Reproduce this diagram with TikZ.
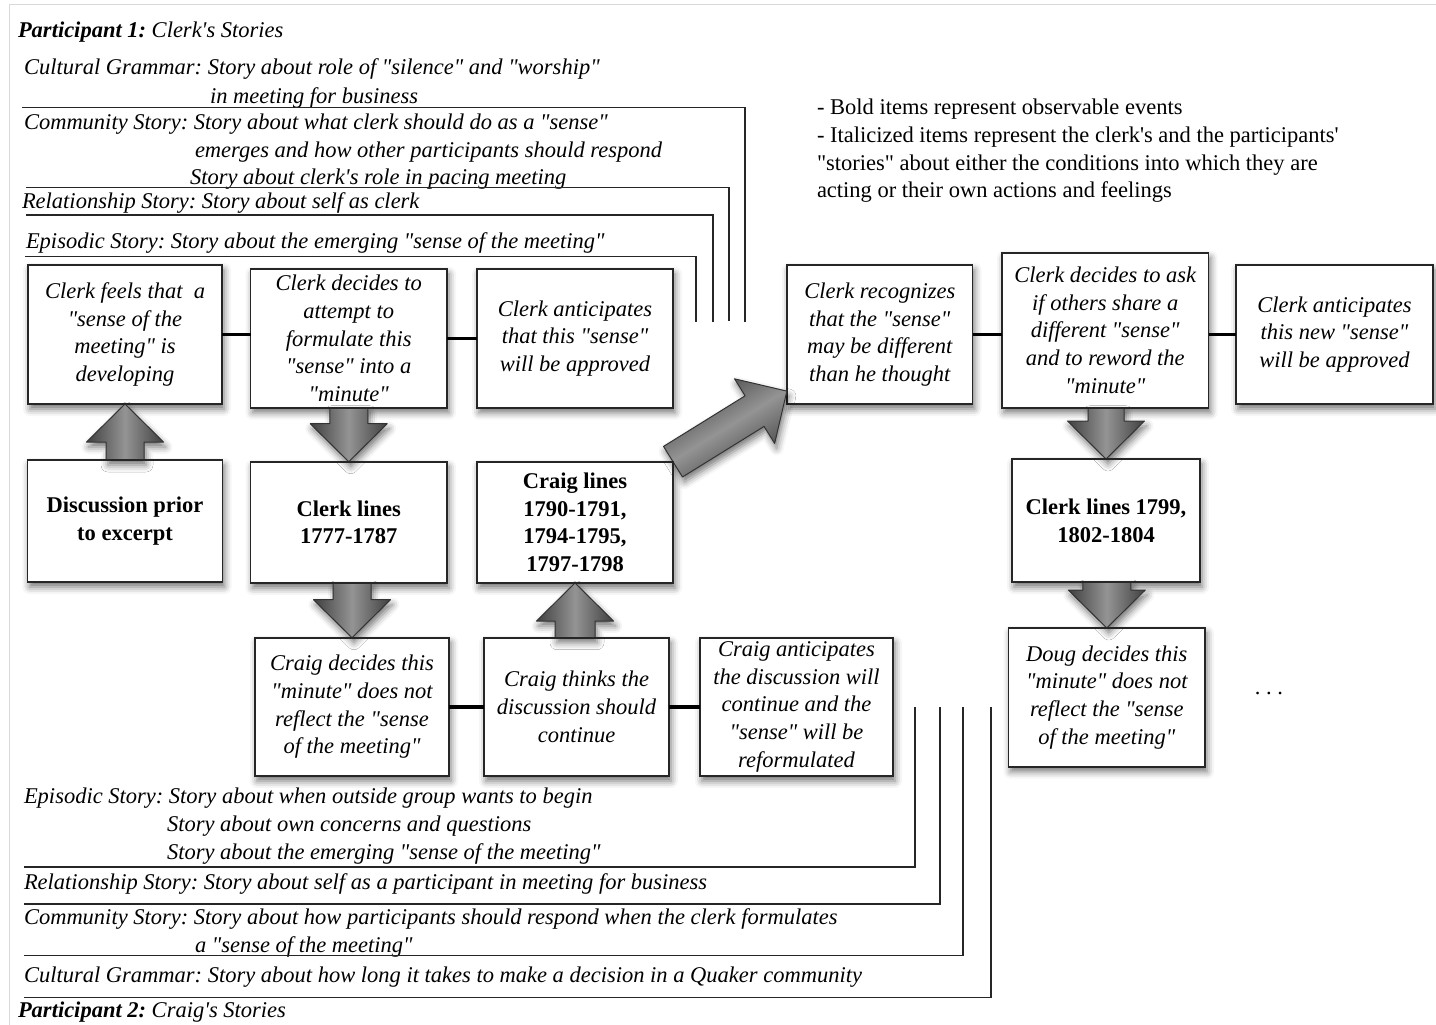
\documentclass[tikz,border=0pt]{standalone}
\usepackage{fontspec}
\setmainfont{Liberation Serif}[Ligatures=TeXOff]
\frenchspacing
\usetikzlibrary{calc,shadows.blur}
\newcommand{\blockarr}[4]{% #1 tail, #2 tip, #3 shaft half width, #4 +1 up / -1 down
  \coordinate (tmpT) at (#2 |- #1);
  \path[barrow] ($(tmpT)+(-#3,0)$) -- ($(#2)+(-#3,#4*38)$) -- ($(#2)+(-38.5,#4*38)$) -- (#2)
     -- ($(#2)+(38.5,#4*38)$) -- ($(#2)+(#3,#4*38)$) -- ($(tmpT)+(#3,0)$) -- cycle;}
\begin{document}
\begin{tikzpicture}[x=1pt,y=-1pt,
  every node/.style={font=\fontsize{22.5}{27.7}\selectfont, inner sep=0pt, outer sep=0pt},
  shad/.style={blur shadow={shadow xshift=2pt, shadow yshift=-5pt, shadow blur radius=7pt, shadow opacity=55}},
  box/.style={draw=black!85, line width=1.6pt, fill=white, align=center, shad},
  ibox/.style={box, font=\fontsize{22.5}{27.7}\selectfont\itshape},
  bbox/.style={box, font=\fontsize{22.5}{27.7}\selectfont\bfseries},
  link/.style={line width=3.6pt, black},
  story/.style={line width=1.4pt, black!85},
  stxt/.style={anchor=base west, font=\fontsize{22.5}{27.7}\selectfont\itshape},
  legend/.style={anchor=base west},
  barrow/.style={draw=black!80, line width=1pt, line join=round, left color=black!75, right color=black!75, middle color=black!42, shad},
]
\useasboundingbox (0,0) rectangle (1436,1025);
\draw[black!15, line width=1pt] (9,1025) -- (9,5) -- (1436,5);

% ---------- participant 1 stories
\node[stxt] (p1) at (18,38) {\textbf{Participant 1:} Clerk's Stories};
\node[stxt] (tc1) at (24,75) {Cultural Grammar: Story about role of "silence" and "worship"};
\node[stxt] (tc2) at (210,103) {in meeting for business};
\node[stxt] (tm1) at (24,129) {Community Story: Story about what clerk should do as a "sense"};
\node[stxt] (tm2) at (195,157) {emerges and how other participants should respond};
\node[stxt] (tm3) at (190,184) {Story about clerk's role in pacing meeting};
\node[stxt] (tr1) at (22,208) {Relationship Story: Story about self as clerk};
\node[stxt] (te1) at (26,248) {Episodic Story: Story about the emerging "sense of the meeting"};

\coordinate (c1a) at (22,107.7); \coordinate (c1b) at (745,107.7); \coordinate (c1c) at (745,322);
\coordinate (c2a) at (26,187.3); \coordinate (c2b) at (729,187.3); \coordinate (c2c) at (729,321);
\coordinate (c3a) at (26,215);   \coordinate (c3b) at (713,215);   \coordinate (c3c) at (713,322);
\coordinate (c4a) at (25,256.7); \coordinate (c4b) at (696,256.7); \coordinate (c4c) at (696,322);
\draw[story] (c1a) -- (c1b) -- (c1c);
\draw[story] (c2a) -- (c2b) -- (c2c);
\draw[story] (c3a) -- (c3b) -- (c3c);
\draw[story] (c4a) -- (c4b) -- (c4c);

% ---------- legend
\node[legend] (l1) at (817,114) {- Bold items represent observable events};
\node[legend] (l2) at (817,142) {- Italicized items represent the clerk's and the participants'};
\node[legend] (l3) at (817,170) {"stories" about either the conditions into which they are};
\node[legend] (l4) at (817,197) {acting or their own actions and feelings};

% ---------- participant 2 stories
\node[stxt] (be1) at (24,803) {Episodic Story: Story about when outside group wants to begin};
\node[stxt] (be2) at (167,831) {Story about own concerns and questions};
\node[stxt] (be3) at (167,859) {Story about the emerging "sense of the meeting"};
\node[stxt] (br1) at (24,889) {Relationship Story: Story about self as a participant in meeting for business};
\node[stxt] (bm1) at (24,924) {Community Story: Story about how participants should respond when the clerk formulates};
\node[stxt] (bm2) at (195,952) {a "sense of the meeting"};
\node[stxt] (bc1) at (24,982) {Cultural Grammar: Story about how long it takes to make a decision in a Quaker community};
\node[stxt] (p2) at (18,1017) {\textbf{Participant 2:} Craig's Stories};

\coordinate (d1a) at (24,867);   \coordinate (d1b) at (915,867);   \coordinate (d1c) at (915,707);
\coordinate (d2a) at (24,904);   \coordinate (d2b) at (940,904);   \coordinate (d2c) at (940,707);
\coordinate (d3a) at (24,955.5); \coordinate (d3b) at (963,955.5); \coordinate (d3c) at (963,707);
\coordinate (d4a) at (24,997.5); \coordinate (d4b) at (991,997.5); \coordinate (d4c) at (991,707);
\draw[story] (d1a) -- (d1b) -- (d1c);
\draw[story] (d2a) -- (d2b) -- (d2c);
\draw[story] (d3a) -- (d3b) -- (d3c);
\draw[story] (d4a) -- (d4b) -- (d4c);

% ---------- boxes
\node[ibox, minimum width=194pt, minimum height=139pt] (A) at (125,334.5)
  {Clerk feels that\ \ a\\"sense of the\\meeting" is\\developing};
\node[ibox, minimum width=196.5pt, minimum height=138.7pt] (B) at (348.75,338.35)
  {Clerk decides to\\attempt to\\formulate this\\"sense" into a\\"minute"};
\node[ibox, minimum width=196pt, minimum height=138.7pt] (C) at (575,338.35)
  {Clerk anticipates\\that this "sense"\\will be approved};
\node[bbox, minimum width=195pt, minimum height=122pt] (D) at (125,521)
  {Discussion prior\\to excerpt};
\node[bbox, minimum width=196.5pt, minimum height=121.3pt] (E) at (348.75,522.35)
  {Clerk lines\\1777-1787};
\node[bbox, minimum width=196pt, minimum height=121.3pt] (F) at (575,522.35)
  {Craig lines\\1790-1791,\\1794-1795,\\1797-1798};
\node[ibox, minimum width=194pt, minimum height=138.3pt] (G) at (352,706.85)
  {Craig decides this\\"minute" does not\\reflect the "sense\\of the meeting"};
\node[ibox, minimum width=185pt, minimum height=138.3pt] (H) at (576.5,706.85)
  {Craig thinks the\\discussion should\\continue};
\node[ibox, minimum width=193pt, minimum height=138.3pt] (I) at (796.5,706.85)
  {Craig anticipates\\the discussion will\\continue and the\\"sense" will be\\reformulated};
\node[ibox, minimum width=185.5pt, minimum height=139pt] (J) at (879.75,334.5)
  {Clerk recognizes\\that the "sense"\\may be different\\than he thought};
\node[ibox, minimum width=206.5pt, minimum height=155pt] (K) at (1105.25,330.2)
  {Clerk decides to ask\\if others share a\\different "sense"\\and to reword the\\"minute"};
\node[ibox, minimum width=197pt, minimum height=139pt] (L) at (1334.5,334.5)
  {Clerk anticipates\\this new "sense"\\will be approved};
\node[bbox, minimum width=188pt, minimum height=123pt] (M) at (1106,520.5)
  {Clerk lines 1799,\\1802-1804};
\node[ibox, minimum width=196.4pt, minimum height=138.7pt] (N) at (1106.8,697.35)
  {Doug decides this\\"minute" does not\\reflect the "sense\\of the meeting"};
\node (dots) at (1269,694) [anchor=base] {.\ .\ .};

% ---------- block arrows
\blockarr{D.north}{A.south}{19}{1}
\blockarr{B.south}{E.north}{19}{-1}
\blockarr{E.south}{G.north}{19}{-1}
\blockarr{H.north}{F.south}{20}{1}
\blockarr{K.south}{M.north}{18}{-1}
\blockarr{M.south}{N.north}{24}{-1}
\begin{scope}[shift={(F.north east)}, rotate=31.8]
  \path[barrow, shading angle=31.8] (0,-18) -- (96,-18) -- (96,-38) -- (134,0) -- (96,38) -- (96,18) -- (0,18) -- cycle;
\end{scope}

% redraw box outlines over arrow ends so tips meet the borders cleanly
\foreach \n in {A,D,B,E,G,H,F,K,M,N}
  \draw[draw=black!85, line width=1.6pt] (\n.south west) rectangle (\n.north east);

% ---------- thick links
\draw[link] (A.east) -- (A.east -| B.west);
\draw[link] (B.east) -- (B.east -| C.west);
\draw[link] (J.east) -- (J.east -| K.west);
\draw[link] (K.east |- L.west) -- (L.west);
\draw[link] (G.east) -- (G.east -| H.west);
\draw[link] (H.east) -- (H.east -| I.west);
\end{tikzpicture}
\end{document}
